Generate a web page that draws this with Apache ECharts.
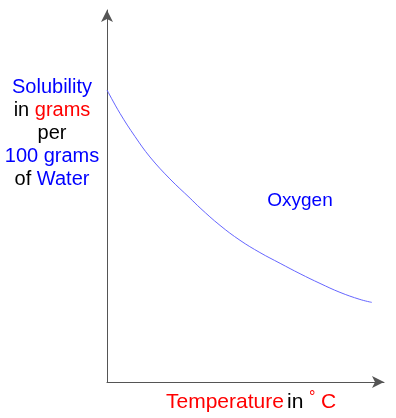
<!DOCTYPE html>
<html>
<head>
<meta charset="utf-8">
<script src="https://cdn.jsdelivr.net/npm/echarts@6/dist/echarts.min.js"></script>
<style>html,body{margin:0;padding:0;background:#fff;}#c{width:396px;height:418px;}</style>
</head>
<body>
<div id="c"></div>
<script>
// Temperature (relative units) and oxygen solubility (relative units)
const temperature = [0, 4.7, 10.1, 15.5, 22.7, 30.0, 33.6, 40.8, 48.0, 55.2, 62.5, 69.7, 76.9, 84.1, 91.3, 95.6];
const solubility  = [78.5, 72.2, 66.0, 60.5, 54.6, 49.4, 46.8, 42.1, 38.1, 34.8, 31.9, 29.1, 26.5, 24.1, 22.2, 21.4];
const seriesName = 'Oxygen';

const FONT = 'Liberation Sans, Arial, sans-serif';
const chart = echarts.init(document.getElementById('c'), null, {renderer: 'canvas'});
const axisCommon = {
  type: 'value', min: 0, max: 100,
  axisLine: {show: true, symbol: ['none', 'arrow'], symbolSize: [9, 12], lineStyle: {color: '#555', width: 1}},
  axisTick: {show: false}, axisLabel: {show: false}, splitLine: {show: false}
};
const rs = (c) => ({fill: c, fontSize: 20, fontFamily: FONT, lineHeight: 23, align: 'center'});
chart.setOption({
  animation: false,
  backgroundColor: '#fff',
  grid: {left: 107, right: 12, top: 10, bottom: 36},
  xAxis: Object.assign({}, axisCommon),
  yAxis: Object.assign({}, axisCommon),
  series: [{
    name: seriesName, type: 'line', smooth: 0.4, showSymbol: false,
    lineStyle: {color: '#6666ff', width: 1},
    data: temperature.map((t, i) => [t, solubility[i]])
  }],
  graphic: [
    {type: 'text', x: 52, y: 76, style: {
      text: '{b|Solubility}\n{k|in} {r|grams}\n{k|per}\n{b|100 grams}\n{k|of} {b|Water}',
      align: 'center', verticalAlign: 'top', font: '20px ' + FONT, lineHeight: 23,
      rich: {b: rs('#0000ff'), r: rs('#ff0000'), k: rs('#000000')}
    }},
    {type: 'text', x: 300, y: 201, style: {text: seriesName, fill: '#0000ff', font: '19px ' + FONT, align: 'center', verticalAlign: 'middle'}},
    {type: 'text', x: 166, y: 402, style: {text: 'Temperature', fill: '#ff0000', font: '21px ' + FONT, align: 'left', verticalAlign: 'middle'}},
    {type: 'text', x: 287, y: 402, style: {text: 'in', fill: '#000000', font: '21px ' + FONT, align: 'left', verticalAlign: 'middle'}},
    {type: 'text', x: 309, y: 398, style: {text: '°', fill: '#ff0000', font: '16px ' + FONT, align: 'left', verticalAlign: 'middle'}},
    {type: 'text', x: 321, y: 402, style: {text: 'C', fill: '#ff0000', font: '21px ' + FONT, align: 'left', verticalAlign: 'middle'}}
  ]
});
</script>
</body>
</html>
